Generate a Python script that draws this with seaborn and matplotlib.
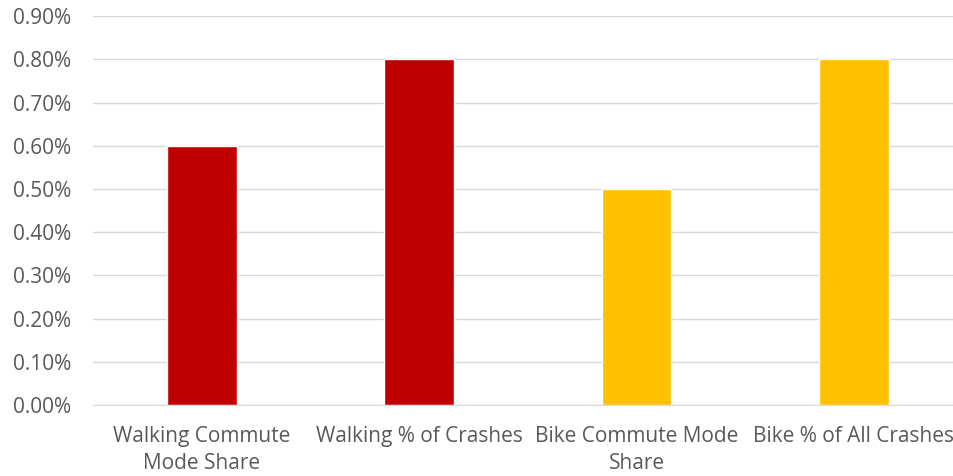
import pandas as pd
import matplotlib.pyplot as plt
import seaborn as sns
from matplotlib.ticker import PercentFormatter

# values (percent)
categories = ["Walking Commute\nMode Share", "Walking % of Crashes",
              "Bike Commute Mode\nShare", "Bike % of All Crashes"]
shares = [0.60, 0.80, 0.50, 0.80]
bar_colors = ["#C00000", "#C00000", "#FFC000", "#FFC000"]
y_ticks = [0.0, 0.1, 0.2, 0.3, 0.4, 0.5, 0.6, 0.7, 0.8, 0.9]

df = pd.DataFrame({"category": categories, "share": shares})

sns.set_style("white")
plt.rcParams["font.family"] = ["Open Sans", "DejaVu Sans"]

fig = plt.figure(figsize=(9.54, 4.76), dpi=100)
ax = fig.add_axes([0.0975, 0.149, 0.9025, 0.817])

sns.barplot(data=df, x="category", y="share", hue="category",
            palette=bar_colors, width=0.32, legend=False, ax=ax,
            saturation=1)

ax.set_ylim(0, 0.9)
ax.set_xlim(-0.5, 3.46)
ax.set_yticks(y_ticks)
ax.yaxis.set_major_formatter(PercentFormatter(decimals=2))
ax.grid(axis="y", color="#D9D9D9", linewidth=1)
ax.set_axisbelow(True)
for side in ["top", "right", "left"]:
    ax.spines[side].set_visible(False)
ax.spines["bottom"].set_color("#D9D9D9")
ax.tick_params(axis="both", length=0, labelsize=15, colors="#595959")
ax.tick_params(axis="y", pad=16)
ax.tick_params(axis="x", pad=15)
for lbl in ax.get_xticklabels():
    lbl.set_linespacing(1.35)
ax.set_xlabel("")
ax.set_ylabel("")

fig.savefig("out.png", dpi=100)
